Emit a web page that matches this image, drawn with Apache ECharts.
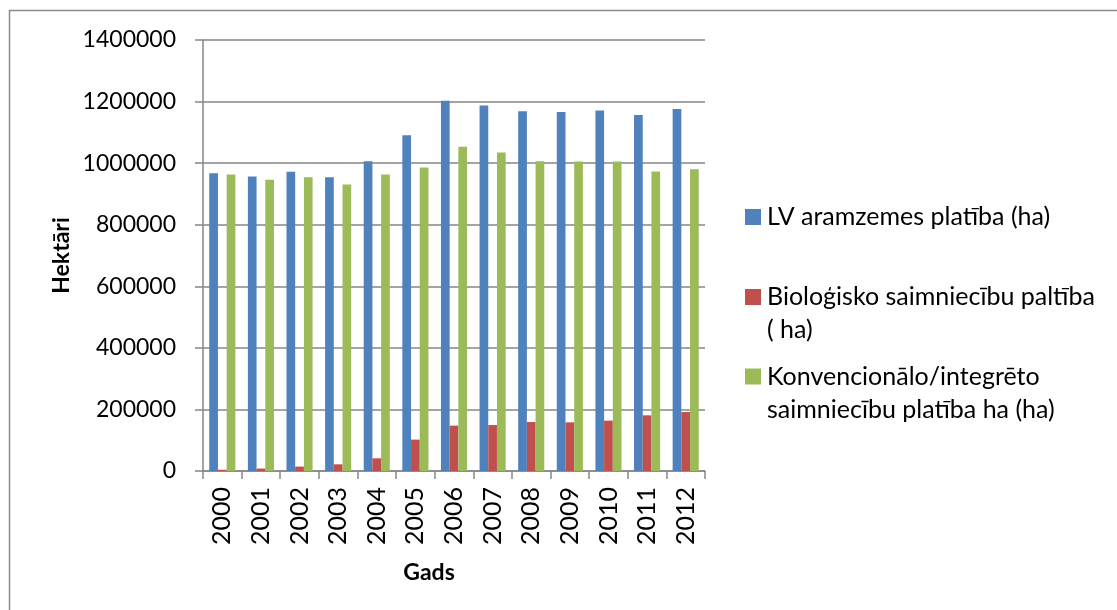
<!DOCTYPE html>
<html>
<head>
<meta charset="utf-8">
<script src="https://cdn.jsdelivr.net/npm/echarts@6/dist/echarts.min.js"></script>
<style>
html,body{margin:0;padding:0;background:#fff;}
#chart{width:1117px;height:610px;}
</style>
</head>
<body>
<div id="chart"></div>
<script>
const years = ['2000','2001','2002','2003','2004','2005','2006','2007','2008','2009','2010','2011','2012'];
const seriesNames = ['LV aramzemes platība (ha)', 'Bioloģisko saimniecību paltība ( ha)', 'Konvencionālo/integrēto saimniecību platība ha (ha)'];
const arable = [967000, 956500, 971800, 954200, 1006000, 1090600, 1203000, 1187000, 1168500, 1166300, 1170700, 1156700, 1176200];
const organic = [4000, 8000, 14300, 21700, 41200, 101900, 147400, 149300, 159000, 158000, 163600, 180800, 191500];
const conventional = [963000, 945800, 954200, 930500, 963000, 985700, 1052900, 1034400, 1006000, 1005000, 1005000, 972700, 980200];
const yTicks = { min: 0, max: 1400000, interval: 200000 };

const colors = ['#4F81BD', '#C0504D', '#9BBB59'];
const legendLabels = {
  [seriesNames[0]]: 'LV aramzemes platība (ha)',
  [seriesNames[1]]: '\nBioloģisko saimniecību paltība\n( ha)',
  [seriesNames[2]]: '\nKonvencionālo/integrēto\nsaimniecību platība ha (ha)'
};
const font = 'Lato';
const legendTops = [200.5, 247.5, 327];

const chart = echarts.init(document.getElementById('chart'), null, {renderer: 'canvas'});
const dataArr = [arable, organic, conventional];

chart.setOption({
  animation: false,
  textStyle: { fontFamily: font },
  graphic: [{
    type: 'rect', silent: true,
    shape: { x: 9.5, y: 10.5, width: 1200, height: 700 },
    style: { fill: 'none', stroke: '#8c8c8c', lineWidth: 1.5 }
  }],
  grid: { left: 203, right: 412, top: 40, bottom: 139 },
  legend: seriesNames.map((n, i) => ({
    data: [n],
    left: 745,
    top: legendTops[i],
    padding: 0,
    orient: 'vertical',
    icon: 'rect',
    itemWidth: 16,
    itemHeight: 16,
    itemGap: 6,
    selectedMode: false,
    formatter: name => legendLabels[name],
    textStyle: { fontFamily: font, fontSize: 25, color: '#000', lineHeight: 33, padding: [0,0,0,1] }
  })),
  xAxis: {
    type: 'category',
    data: years,
    name: 'Gads',
    nameLocation: 'middle',
    nameGap: 90,
    nameTextStyle: { fontFamily: font, fontSize: 23, fontWeight: 'bold', color: '#000', padding: [0, 50, 0, 0] },
    axisLine: { lineStyle: { color: '#868686', width: 1.5 } },
    axisTick: { show: true, length: 8, lineStyle: { color: '#868686', width: 1.5 } },
    axisLabel: { rotate: 90, margin: 16, fontFamily: font, fontSize: 25, color: '#000' },
    splitLine: { show: false }
  },
  yAxis: {
    type: 'value',
    min: yTicks.min, max: yTicks.max, interval: yTicks.interval,
    name: 'Hektāri',
    nameLocation: 'middle',
    nameGap: 130,
    nameRotate: 90,
    nameTextStyle: { fontFamily: font, fontSize: 23, fontWeight: 'bold', color: '#000' },
    axisLine: { show: true, lineStyle: { color: '#868686', width: 1.5 } },
    axisTick: { show: true, inside: false, length: 8, lineStyle: { color: '#868686', width: 1.5 } },
    axisLabel: { margin: 27, fontFamily: font, fontSize: 23, color: '#000', formatter: v => String(v) },
    splitLine: { show: true, lineStyle: { color: '#868686', width: 1.5 } }
  },
  series: seriesNames.map((n, i) => ({
    name: n,
    type: 'bar',
    data: dataArr[i],
    barWidth: 8.7,
    barGap: '0%',
    itemStyle: { color: colors[i] }
  }))
});
</script>
</body>
</html>
